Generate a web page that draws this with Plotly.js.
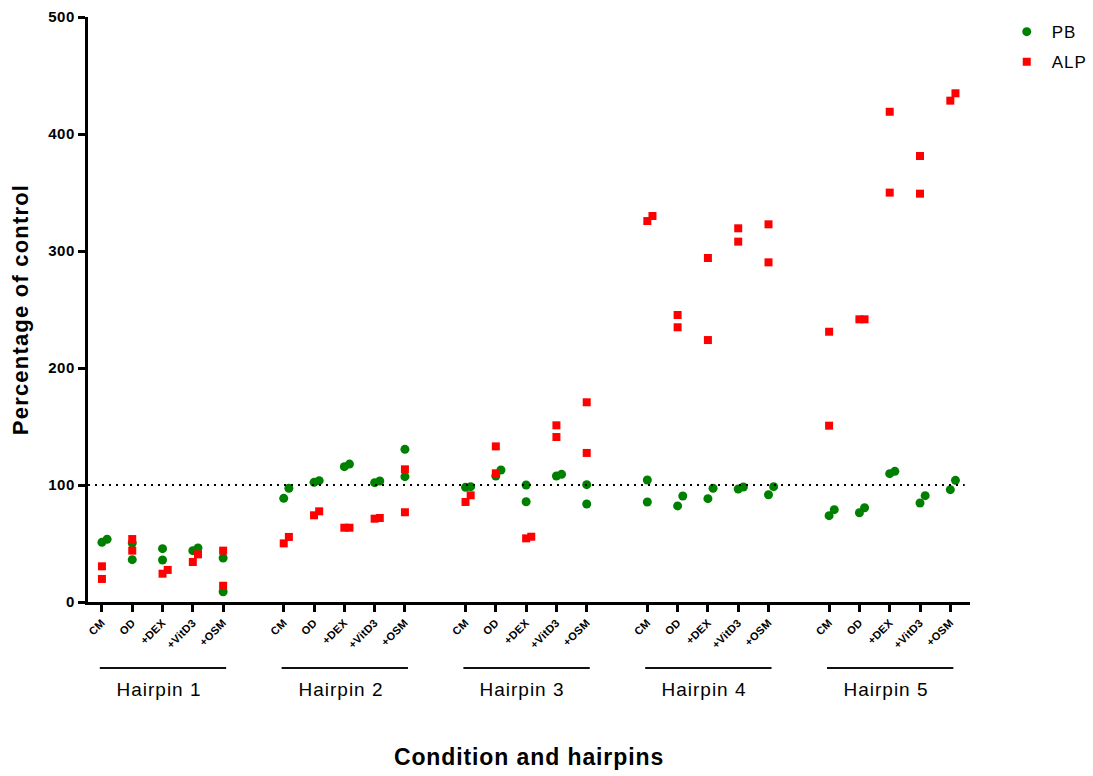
<!DOCTYPE html>
<html>
<head>
<meta charset="utf-8">
<script src="https://cdn.plot.ly/plotly-3.0.1.min.js"></script>
<style>
  html, body { margin: 0; padding: 0; background: #ffffff; }
  #chart { width: 1093px; height: 776px; }
  #chart .xtitle { letter-spacing: 0.9px; }
  #chart .ytitle { letter-spacing: 1.2px; }
  #chart .annotation-text { letter-spacing: 1px; }
  #chart .legendtext { letter-spacing: 1px; }
  #chart .ytick text { letter-spacing: 0.6px; }
  #chart .xtick text { letter-spacing: 0.3px; }
</style>
</head>
<body>
<div id="chart"></div>
<script>
// Treatment conditions within each hairpin, and the hairpins themselves
const conditions = ['CM', 'OD', '+DEX', '+VitD3', '+OSM'];
const hairpins = ['Hairpin 1', 'Hairpin 2', 'Hairpin 3', 'Hairpin 4', 'Hairpin 5'];

// Percentage of control, two replicates per condition (hairpin 1..5, conditions in order)
const pbRep1 = [
  51.0, 50.4, 45.6, 43.9, 37.6,
  88.6, 102.3, 115.7, 102.0, 130.5,
  98.0, 107.7, 100.0, 107.7, 100.3,
  104.3, 82.1, 88.3, 96.6, 91.7,
  73.8, 76.3, 109.7, 84.6, 96.0
];
const pbRep2 = [
  53.6, 36.2, 35.9, 46.2, 8.8,
  97.2, 103.7, 117.9, 103.4, 107.1,
  98.6, 112.8, 85.7, 109.1, 83.8,
  85.5, 90.6, 97.2, 98.3, 98.6,
  78.9, 80.6, 111.7, 90.9, 104.0
];
const alpRep1 = [
  30.5, 53.8, 24.2, 34.2, 43.9,
  50.1, 74.1, 63.5, 71.2, 113.4,
  85.5, 133.0, 54.4, 151.0, 170.7,
  325.6, 245.3, 294.0, 319.4, 322.8,
  231.0, 241.6, 419.0, 381.2, 428.5
];
const alpRep2 = [
  19.7, 43.9, 27.4, 40.7, 13.9,
  55.6, 77.5, 63.5, 71.8, 76.7,
  91.2, 110.0, 55.8, 141.0, 127.4,
  329.9, 234.8, 223.9, 308.0, 290.3,
  150.7, 241.6, 349.9, 349.0, 434.8
];
const controlLevel = 100;

// Each hairpin takes five category slots followed by one empty slot
function slot(h, c) { return h * (conditions.length + 1) + c; }

// Replicates that would overlap are nudged sideways so both stay visible
const NUDGE = 0.17;
const CLOSE = 9.3;
function seriesPoints(r1, r2) {
  const xs = [], ys = [];
  r1.forEach((a, i) => {
    const b = r2[i];
    const base = slot(Math.floor(i / conditions.length), i % conditions.length);
    let xa = base, xb = base;
    if (Math.abs(a - b) < CLOSE) {
      if (b >= a) xb += NUDGE; else xa += NUDGE;
    }
    xs.push(xa, xb);
    ys.push(a, b);
  });
  return { xs, ys };
}

const pb = seriesPoints(pbRep1, pbRep2);
const alp = seriesPoints(alpRep1, alpRep2);

const tickvals = [], ticktext = [];
hairpins.forEach((_, h) => conditions.forEach((c, k) => { tickvals.push(slot(h, k)); ticktext.push(c); }));

const FONT = '"Liberation Sans", Arial, sans-serif';

const traces = [
  {
    type: 'scatter', mode: 'markers', name: 'PB', legendgroup: 'pb',
    x: pb.xs, y: pb.ys,
    marker: { symbol: 'circle', size: 9, color: '#008000' },
    hoverinfo: 'y+name'
  },
  {
    type: 'scatter', mode: 'markers', name: 'ALP', legendgroup: 'alp',
    x: alp.xs, y: alp.ys,
    marker: { symbol: 'square', size: 8, color: '#ff0000' },
    hoverinfo: 'y+name'
  }
];

const shapes = [{
  type: 'line', xref: 'paper', yref: 'y',
  x0: 0, x1: 0.994, y0: controlLevel, y1: controlLevel,
  line: { color: '#000000', width: 2, dash: '2px,5px' }
}];
const annotations = [];
hairpins.forEach((name, h) => {
  shapes.push({
    type: 'line', xref: 'x', yref: 'paper',
    x0: slot(h, 0) - 0.07, x1: slot(h, conditions.length - 1) + 0.1,
    y0: -0.113, y1: -0.113,
    line: { color: '#111111', width: 2 }
  });
  annotations.push({
    xref: 'x', yref: 'paper', x: slot(h, 2) - 0.12, y: -0.150,
    text: name, showarrow: false, xanchor: 'center', yanchor: 'middle',
    font: { family: FONT, size: 19, color: '#000000' }
  });
});

const layout = {
  width: 1093, height: 776,
  margin: { l: 88, r: 123, t: 17, b: 174, autoexpand: false },
  paper_bgcolor: '#ffffff', plot_bgcolor: '#ffffff',
  showlegend: true,
  legend: {
    x: 1.036, y: 1.005, xanchor: 'left', yanchor: 'top',
    font: { family: FONT, size: 17, color: '#000000' },
    traceorder: 'grouped', tracegroupgap: 5, itemwidth: 40,
    bgcolor: 'rgba(0,0,0,0)'
  },
  xaxis: {
    range: [-0.46, 28.65],
    tickmode: 'array', tickvals: tickvals, ticktext: ticktext,
    tickangle: -45,
    tickfont: { family: FONT, size: 11, color: '#000000', weight: 'bold' },
    ticks: 'outside', ticklen: 7, tickwidth: 3, tickcolor: '#000000',
    showline: true, linewidth: 3, linecolor: '#000000',
    showgrid: false, zeroline: false,
    title: {
      text: 'Condition and hairpins', standoff: 101,
      font: { family: FONT, size: 23, color: '#000000', weight: 'bold' }
    }
  },
  yaxis: {
    range: [0, 500],
    tickmode: 'array', tickvals: [0, 100, 200, 300, 400, 500],
    tickfont: { family: FONT, size: 15, color: '#000000', weight: 'bold' },
    ticks: 'outside', ticklen: 7, tickwidth: 3, tickcolor: '#000000',
    showline: true, linewidth: 3, linecolor: '#000000',
    showgrid: false, zeroline: false,
    title: {
      text: 'Percentage of control', standoff: 16,
      font: { family: FONT, size: 22, color: '#000000', weight: 'bold' }
    }
  },
  shapes: shapes,
  annotations: annotations
};

Plotly.newPlot('chart', traces, layout, { displayModeBar: false, responsive: false });
</script>
</body>
</html>
